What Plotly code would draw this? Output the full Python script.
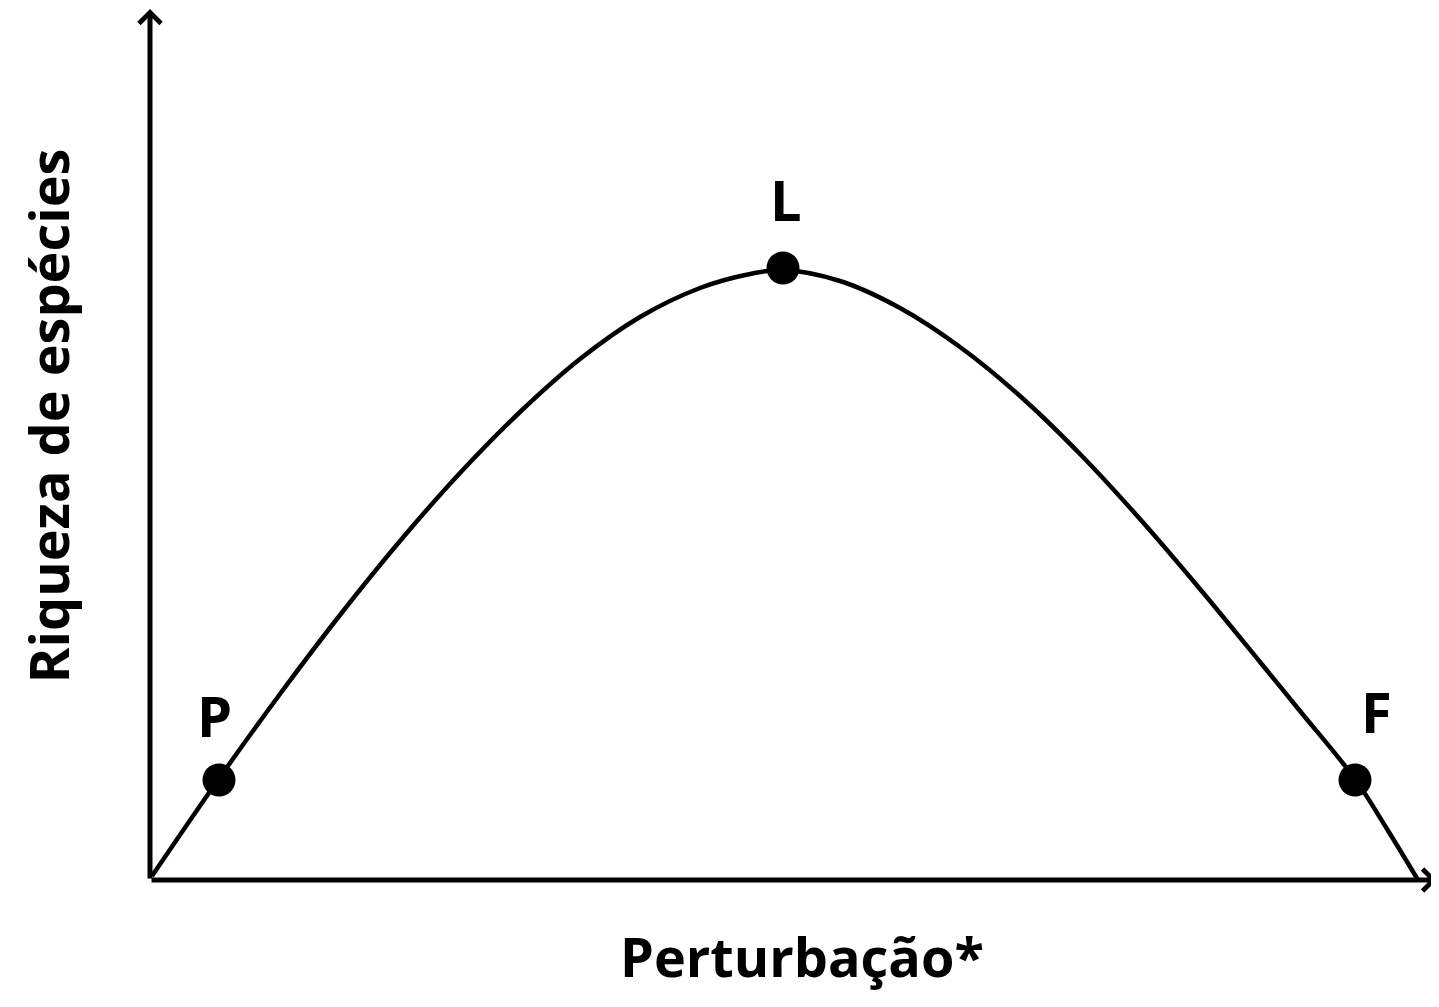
import plotly.graph_objects as go

# curva (x = perturbação, y = riqueza), unidades ~pixel a partir da origem
curva_x = [2, 68, 130, 190, 250, 310, 370, 430, 490, 550, 600, 633,
           690, 750, 810, 870, 930, 990, 1050, 1110, 1150, 1205, 1237, 1268]
curva_y = [4, 100, 186, 265, 339, 407, 468, 521, 563, 592, 606, 610,
           599, 572, 533, 484, 426, 361, 291, 218, 169, 101, 51, 0]

pontos_nome = ['P', 'L', 'F']
pontos_x = [69, 633, 1205]
pontos_y = [100, 612, 100]

eixo_x_max = 1287
eixo_y_max = 871

fig = go.Figure()

fig.add_trace(go.Scatter(
    x=curva_x, y=curva_y,
    mode='lines',
    line=dict(color='black', width=4.5, shape='spline', smoothing=1.0),
    hoverinfo='skip'
))

fig.add_trace(go.Scatter(
    x=pontos_x, y=pontos_y,
    mode='markers',
    marker=dict(color='black', size=33),
    hoverinfo='skip'
))

# rótulos dos pontos
deslocamento = {'P': (-5, 65), 'L': (3, 69), 'F': (21, 69)}
for nome, px_, py_ in zip(pontos_nome, pontos_x, pontos_y):
    dx, dy = deslocamento[nome]
    fig.add_annotation(
        x=px_, y=py_, text='<b>' + nome + '</b>',
        showarrow=False, xshift=dx, yshift=dy,
        xanchor='center', yanchor='middle',
        font=dict(family='Open Sans', size=56, color='black')
    )

# eixos com setas
fig.add_annotation(x=0, y=eixo_y_max, ax=0, ay=0, axref='x', ayref='y',
                   xref='x', yref='y', text='', showarrow=True,
                   arrowhead=4, arrowsize=0.85, arrowwidth=5, arrowcolor='black')
fig.add_annotation(x=eixo_x_max, y=0, ax=0, ay=0, axref='x', ayref='y',
                   xref='x', yref='y', text='', showarrow=True,
                   arrowhead=4, arrowsize=0.85, arrowwidth=5, arrowcolor='black')

# títulos dos eixos
fig.add_annotation(x=0.506, y=-0.087, xref='paper', yref='paper',
                   xanchor='center', yanchor='middle',
                   text='<b>Perturbação*</b>', showarrow=False,
                   font=dict(family='Open Sans', size=54, color='black'))
fig.add_annotation(x=-0.0791, y=0.532, xref='paper', yref='paper',
                   xanchor='center', yanchor='middle',
                   text='<b>Riqueza de espécies</b>', showarrow=False, textangle=-90,
                   font=dict(family='Open Sans', size=54, color='black'))

# a página tem margem de 8px no body
fig.update_layout(
    width=1431, height=999,
    paper_bgcolor='white', plot_bgcolor='white',
    showlegend=False,
    margin=dict(l=142, r=0, t=0, b=127),
    xaxis=dict(range=[0, 1289], visible=False, fixedrange=True),
    yaxis=dict(range=[0, 872], visible=False, fixedrange=True),
)

fig.write_html("out.html")
